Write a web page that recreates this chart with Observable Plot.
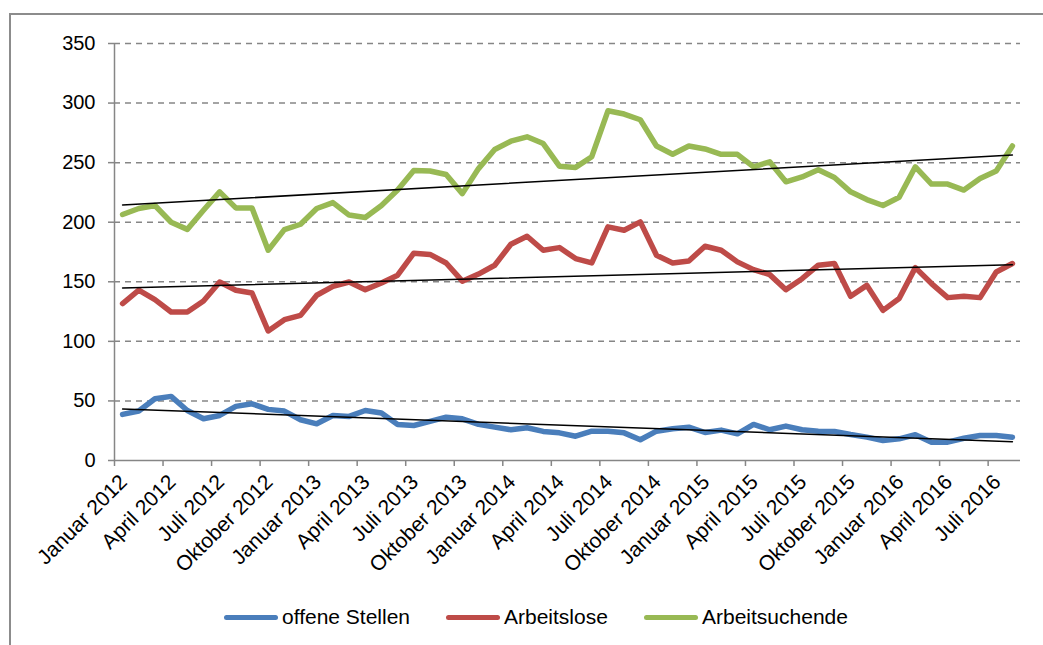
<!DOCTYPE html>
<html><head><meta charset="utf-8">
<script src="https://cdn.jsdelivr.net/npm/d3@7"></script>
<script src="https://cdn.jsdelivr.net/npm/@observablehq/plot@0.6"></script>
<style>
body{margin:0;background:#fff;font-family:"Liberation Sans",Arial,sans-serif;width:1043px;height:645px;overflow:hidden;position:relative;}
#frame{position:absolute;left:9px;top:13px;width:1050px;height:650px;border-left:2px solid #8c8c8c;border-top:2px solid #8c8c8c;}
#chart{position:absolute;left:0;top:0;}
#legend{position:absolute;top:604px;left:0;width:1043px;height:26px;}
.item{position:absolute;top:0;height:26px;display:flex;align-items:center;font-size:21px;color:#000;white-space:nowrap;}
.sw{width:54px;height:5px;border-radius:3px;margin-right:4px;}
</style></head><body>
<div id="frame"></div><div id="chart"></div><div id="legend"></div>
<script>
// Categories: monthly, Januar 2012 .. August 2016 (56 months)
const monthNames = ["Januar","Februar","März","April","Mai","Juni","Juli","August","September","Oktober","November","Dezember"];
const years = [2012, 2013, 2014, 2015, 2016];
const monthCount = 56;

// Tick labels (every third month)
const tickLabels = ["Januar 2012","April 2012","Juli 2012","Oktober 2012","Januar 2013","April 2013","Juli 2013","Oktober 2013","Januar 2014","April 2014","Juli 2014","Oktober 2014","Januar 2015","April 2015","Juli 2015","Oktober 2015","Januar 2016","April 2016","Juli 2016"];
const yTicks = [0, 50, 100, 150, 200, 250, 300, 350];

const seriesNames = ["offene Stellen", "Arbeitslose", "Arbeitsuchende"];
const seriesColors = ["#4a7ebb", "#be4b48", "#98b954"];

const offeneStellen = [38.7,41.5,51.8,53.8,42,35,37.8,45.4,47.6,42.9,
  41.5,34.2,30.8,37.8,37,42,39.8,30.3,29.4,32.8,
  36.4,35,30.3,28,25.8,27.5,24.4,23.2,20.4,24.6,
  24.6,23.2,17.4,24.6,26.6,28,23.5,25.5,22.4,30.3,
  25.8,28.9,25.8,24.6,24.4,21.8,19.6,16.8,18.2,21.6,
  15.4,15.4,18.7,21,21,19.6];
const arbeitslose = [131.7,142.9,135,124.6,124.6,133.9,149.8,142.9,140.6,108.7,
  118.2,121.8,138.7,146.2,149.8,143.4,149,155.5,174,173,
  165.8,150.5,156.5,163.9,181.5,188.2,176.5,178.7,169.5,165.8,
  196.1,193.3,200.3,172.3,165.8,167.5,179.8,176.5,166.7,160.2,
  156,143.4,152.6,163.9,165.3,137.8,147,126,135.9,161.9,
  148.5,136.7,137.8,136.7,158.2,165.3];
const arbeitsuchende = [206.5,211.5,214,200,194,210,225.5,212,212,176.5,
  193.8,198.3,211.5,216.5,206,204,214,227,243.5,243,
  240,224,245,261,268,271.7,266,247,246,255,
  293.5,290.8,286,264,257,264,261.5,257,257,246.5,
  250.7,233.9,238,244,237.5,225.5,219,214,221,246.5,
  232,232,227,236.7,243,264];

const allSeries = [offeneStellen, arbeitslose, arbeitsuchende];
const months = d3.range(monthCount).map(i => monthNames[i % 12] + " " + years[Math.floor(i / 12)]);

const data = [];
allSeries.forEach((vals, k) => vals.forEach((v, i) => data.push({i, month: months[i], v, s: seriesNames[k]})));

const labelPos = d3.range(tickLabels.length).map(k => k * 3);
const boundaries = d3.range(tickLabels.length).map(k => k * 3 - 0.5);
const gray = "#868686";
const blank = () => "";

const plot = Plot.plot({
  width: 1043, height: 580,
  marginLeft: 114, marginRight: 23, marginTop: 43, marginBottom: 120,
  style: {fontFamily: "'Liberation Sans', Arial, sans-serif", fontSize: "20px", color: "#000", background: "transparent", overflow: "visible"},
  x: {domain: [-0.5, monthCount - 0.5], label: null},
  y: {domain: [0, 350], label: null},
  color: {domain: seriesNames, range: seriesColors},
  marks: [
    Plot.gridY(yTicks.filter(t => t > 0), {stroke: gray, strokeOpacity: 1, strokeWidth: 1.5, strokeDasharray: "6,5"}),
    Plot.axisY(yTicks, {tickSize: 6, tickFormat: blank, stroke: gray, strokeWidth: 1.5, label: null}),
    Plot.axisY(yTicks, {tickSize: 0, tickPadding: 19, fill: "#000", fontSize: 20, label: null}),
    Plot.axisX(boundaries, {tickSize: 6, tickFormat: blank, stroke: gray, strokeWidth: 1.5, label: null}),
    Plot.axisX(labelPos, {tickSize: 0, tickPadding: 18, tickRotate: -45, textAnchor: "end", dx: 1, fill: "#000", fontSize: 21, label: null,
      tickFormat: i => tickLabels[i / 3]}),
    Plot.ruleX([-0.5], {y1: 0, y2: 350, stroke: gray, strokeWidth: 1.5}),
    Plot.ruleY([0], {stroke: gray, strokeWidth: 1.5}),
    Plot.line(data, {x: "i", y: "v", z: "s", stroke: "s", strokeWidth: 5.5, strokeLinejoin: "round", strokeLinecap: "round"}),
    Plot.linearRegressionY(data, {x: "i", y: "v", z: "s", stroke: "#000", strokeWidth: 1.5, ci: 0})
  ]
});
document.getElementById("chart").appendChild(plot);

const legendX = [224, 446, 644];
const legend = document.getElementById("legend");
seriesNames.forEach((name, k) => {
  const it = document.createElement("div");
  it.className = "item";
  it.style.left = legendX[k] + "px";
  const sw = document.createElement("div");
  sw.className = "sw";
  sw.style.background = seriesColors[k];
  const tx = document.createElement("span");
  tx.textContent = name;
  it.appendChild(sw); it.appendChild(tx);
  legend.appendChild(it);
});
</script>
</body></html>
